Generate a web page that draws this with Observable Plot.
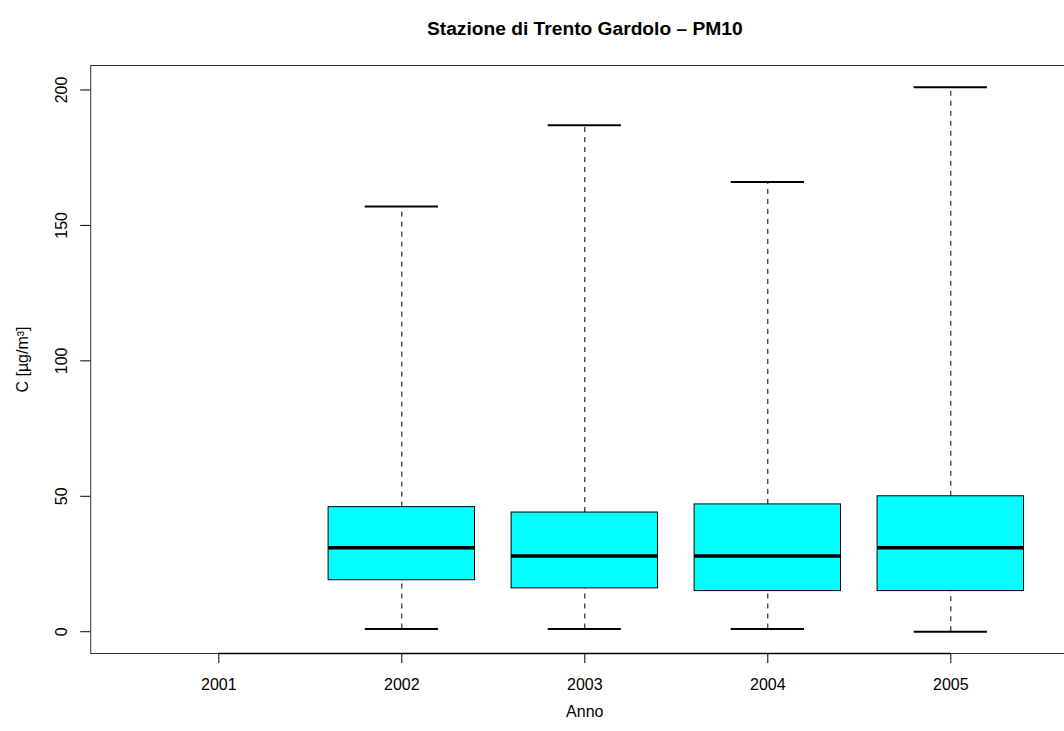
<!DOCTYPE html>
<html>
<head>
<meta charset="utf-8">
<script src="https://cdn.jsdelivr.net/npm/d3@7"></script>
<script src="https://cdn.jsdelivr.net/npm/@observablehq/plot@0.6"></script>
<style>
  html, body { margin: 0; padding: 0; background: #fff; }
</style>
</head>
<body>
<div id="chart"></div>
<script>
const title = "Stazione di Trento Gardolo – PM10";
const xLabel = "Anno";
const yLabel = "C [µg/m³]";
const years = [2001, 2002, 2003, 2004, 2005];
const boxYears = [2002, 2003, 2004, 2005];
const whiskerLow = [1, 1, 1, 0];
const q1 = [19, 16, 15, 15];
const median = [31, 28, 28, 31];
const q3 = [46, 44, 47, 50];
const whiskerHigh = [157, 187, 166, 201];
const yTicks = [0, 50, 100, 150, 200];

const rows = boxYears.map((year, i) => ({
  year, lo: whiskerLow[i], q1: q1[i], med: median[i], q3: q3[i], hi: whiskerHigh[i]
}));

const boxHalf = 0.4, capHalf = 0.2;
const yMin = d3.min(whiskerLow), yMax = d3.max(whiskerHigh);
const yPad = (yMax - yMin) * 0.04;
const xPad = (years.length) * 0.04;

const chart = Plot.plot({
  width: 1064,
  height: 731,
  marginLeft: 90.2,
  marginRight: -14.4,
  marginTop: 65,
  marginBottom: 78,
  style: {fontFamily: "'Liberation Sans', Arial, Helvetica, sans-serif", background: "#fff", color: "#000"},
  x: {type: "linear", domain: [years[0] - 0.5 - xPad, years[years.length - 1] + 0.5 + xPad], axis: null},
  y: {type: "linear", domain: [yMin - yPad, yMax + yPad], axis: null},
  marks: [
    // whiskers
    Plot.ruleX(rows, {x: "year", y1: "q3", y2: "hi", stroke: "#000", strokeWidth: 1, strokeDasharray: "5,5"}),
    Plot.ruleX(rows, {x: "year", y1: "lo", y2: "q1", stroke: "#000", strokeWidth: 1, strokeDasharray: "5,5"}),
    // staples
    Plot.ruleY(rows, {y: "hi", x1: d => d.year - capHalf, x2: d => d.year + capHalf, stroke: "#000", strokeWidth: 2}),
    Plot.ruleY(rows, {y: "lo", x1: d => d.year - capHalf, x2: d => d.year + capHalf, stroke: "#000", strokeWidth: 2}),
    // boxes
    Plot.rect(rows, {x1: d => d.year - boxHalf, x2: d => d.year + boxHalf, y1: "q1", y2: "q3", fill: "#00ffff", stroke: "#000", strokeWidth: 1}),
    // medians
    Plot.ruleY(rows, {y: "med", x1: d => d.year - boxHalf, x2: d => d.year + boxHalf, stroke: "#000", strokeWidth: 3.5}),
    // frame
    Plot.frame({stroke: "#333", strokeWidth: 1}),
    // x axis
    Plot.axisX({ticks: years, tickSize: 10, tickFormat: () => "", label: null, stroke: "#000"}),
    Plot.ruleY([yMin - yPad], {x1: years[0], x2: years[years.length - 1], stroke: "#000", strokeWidth: 1.5}),
    Plot.text(years, {x: d => d, frameAnchor: "bottom", dy: 31.5, text: d => String(d), fontSize: 16, lineAnchor: "middle"}),
    // y axis
    Plot.axisY({ticks: yTicks, tickSize: 10, tickFormat: () => "", label: null, stroke: "#000"}),
    Plot.text(yTicks, {y: d => d, frameAnchor: "left", dx: -29, rotate: -90, text: d => String(d), fontSize: 16, textAnchor: "middle", lineAnchor: "middle"}),
    // titles
    Plot.text([title], {frameAnchor: "top", dy: -37, fontSize: 19.2, fontWeight: "bold", lineAnchor: "middle"}),
    Plot.text([xLabel], {frameAnchor: "bottom", dy: 58, fontSize: 16, lineAnchor: "middle"}),
    Plot.text([yLabel], {frameAnchor: "left", dx: -68, rotate: -90, fontSize: 16, textAnchor: "middle", lineAnchor: "middle"})
  ]
});
document.getElementById("chart").appendChild(chart);
</script>
</body>
</html>
